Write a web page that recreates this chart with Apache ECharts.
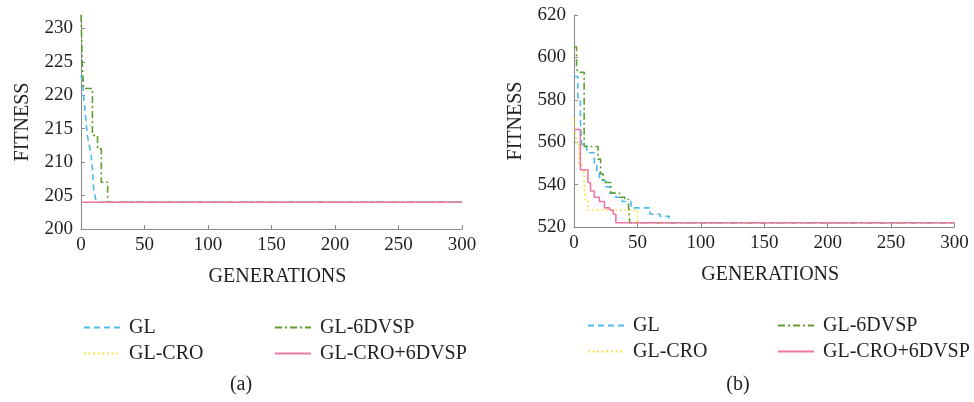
<!DOCTYPE html>
<html><head><meta charset="utf-8">
<script src="https://cdn.jsdelivr.net/npm/echarts@6/dist/echarts.min.js"></script>
<style>html,body{margin:0;padding:0;background:#fff}#c{width:974px;height:402px}</style>
</head><body><div id="c"></div>
<script>
// ---- data ----
const seriesNames = ['GL', 'GL-CRO', 'GL-6DVSP', 'GL-CRO+6DVSP'];
const xTicks = [0, 50, 100, 150, 200, 250, 300];
const aFitTicks = [200, 205, 210, 215, 220, 225, 230];
const bFitTicks = [520, 540, 560, 580, 600, 620];

// (a)  generation where each value starts, and the fitness value
const aGLGen = [0, 1, 2, 3, 4, 5, 6, 7, 8, 9, 10, 11, 12, 300];
const aGLFit = [223, 222, 220, 218, 216, 214, 213, 212, 211, 209, 206, 205, 204, 204];
const aCROGen = [0, 300];
const aCROFit = [204, 204];
const a6DGen = [0, 1, 2, 9, 13, 16, 21, 300];
const a6DFit = [232, 225, 221, 214, 212, 207, 204, 204];
const aCRO6DGen = [0, 300];
const aCRO6DFit = [204, 204];

// (b)
const bGLGen = [0, 3, 5, 6, 10, 16, 18, 20, 25, 28, 33, 38, 45, 60, 68, 75, 300];
const bGLFit = [591, 581, 571, 559, 555, 550, 546, 542, 539, 536, 534, 532, 529, 526, 525, 522, 522];
const bCROGen = [0, 1, 2, 4, 6, 8, 9, 11, 50, 300];
const bCROFit = [571, 565, 559, 550, 546, 541, 533, 528, 522, 522];
const b6DGen = [0, 2, 3, 8, 19, 21, 23, 29, 36, 40, 43, 44, 300];
const b6DFit = [605, 595, 593, 558, 552, 545, 541, 536, 534, 533, 530, 522, 522];
const bCRO6DGen = [0, 5, 11, 13, 16, 20, 24, 28, 31, 33, 300];
const bCRO6DFit = [566, 547, 541, 537, 534, 532, 529, 528, 526, 522, 522];

// ---- styles ----
const FONT = 'Liberation Serif';
const TXT = '#231f20';
const AX = '#8a8a8a';
const styles = {
  'GL': { color: '#4dbbec', type: [6, 4] },
  'GL-CRO': { color: '#f9dc1c', type: [1.6, 3] },
  'GL-6DVSP': { color: '#5f9e2e', type: [7, 3, 2, 3] },
  'GL-CRO+6DVSP': { color: '#ec77a5', type: 'solid' }
};
const zip = (g, f) => g.map((x, i) => [x, f[i]]);

function mkSeries(name, g, f, idx) {
  return {
    name, type: 'line', step: 'end', showSymbol: false, symbol: 'none',
    xAxisIndex: idx, yAxisIndex: idx, data: zip(g, f),
    lineStyle: { color: styles[name].color, width: 1.6, type: styles[name].type },
    itemStyle: { color: styles[name].color },
    emphasis: { disabled: true }
  };
}

function xAx(idx) {
  return {
    type: 'value', gridIndex: idx, min: 0, max: 300, interval: 50,
    name: 'GENERATIONS', nameLocation: 'middle', nameGap: 38,
    nameTextStyle: { fontFamily: FONT, fontSize: 20, color: TXT, padding: [0, 0, 0, 12] },
    axisLine: { show: true, lineStyle: { color: AX, width: 1 } },
    axisTick: { show: true, inside: true, length: 4, lineStyle: { color: AX } },
    axisLabel: { fontFamily: FONT, fontSize: 19, color: TXT, margin: 7 },
    splitLine: { show: false }
  };
}
function yAx(idx, min, max, ticks) {
  return {
    type: 'value', gridIndex: idx, min, max,
    name: 'FITNESS', nameLocation: 'middle', nameGap: 48,
    nameTextStyle: { fontFamily: FONT, fontSize: 20, color: TXT },
    axisLine: { show: true, lineStyle: { color: AX, width: 1 } },
    axisTick: { show: true, inside: true, length: 4, lineStyle: { color: AX }, customValues: ticks },
    axisLabel: { fontFamily: FONT, fontSize: 19, color: TXT, margin: 8, customValues: ticks },
    splitLine: { show: false }
  };
}
function legend(left, top, data) {
  return {
    left, top, orient: 'vertical', data, itemWidth: 36, itemHeight: 14, itemGap: 5,
    selectedMode: false,
    itemStyle: { opacity: 0 },
    textStyle: { fontFamily: FONT, fontSize: 20, color: TXT, padding: [0, 0, 0, 4], lineHeight: 21 }
  };
}

const chart = echarts.init(document.getElementById('c'), null, { renderer: 'canvas' });
chart.setOption({
  animation: false,
  backgroundColor: '#fff',
  grid: [
    { left: 81, top: 15, width: 381, height: 214 },
    { left: 574, top: 15, width: 380.5, height: 212 }
  ],
  xAxis: [xAx(0), xAx(1)],
  yAxis: [yAx(0, 200, 232, aFitTicks), yAx(1, 520, 620, bFitTicks)],
  legend: [
    legend(78, 312, ['GL', 'GL-CRO']),
    legend(269, 312, ['GL-6DVSP', 'GL-CRO+6DVSP']),
    legend(582, 310, ['GL', 'GL-CRO']),
    legend(772, 310, ['GL-6DVSP', 'GL-CRO+6DVSP'])
  ],
  graphic: [
    { type: 'text', x: 241, y: 385, style: { text: '(a)', fontFamily: FONT, fontSize: 20, fill: TXT, textAlign: 'center', textVerticalAlign: 'middle' } },
    { type: 'text', x: 738, y: 385, style: { text: '(b)', fontFamily: FONT, fontSize: 20, fill: TXT, textAlign: 'center', textVerticalAlign: 'middle' } }
  ],
  series: [
    mkSeries('GL', aGLGen, aGLFit, 0),
    mkSeries('GL-CRO', aCROGen, aCROFit, 0),
    mkSeries('GL-6DVSP', a6DGen, a6DFit, 0),
    mkSeries('GL-CRO+6DVSP', aCRO6DGen, aCRO6DFit, 0),
    mkSeries('GL', bGLGen, bGLFit, 1),
    mkSeries('GL-CRO', bCROGen, bCROFit, 1),
    mkSeries('GL-6DVSP', b6DGen, b6DFit, 1),
    mkSeries('GL-CRO+6DVSP', bCRO6DGen, bCRO6DFit, 1)
  ]
});
</script></body></html>
